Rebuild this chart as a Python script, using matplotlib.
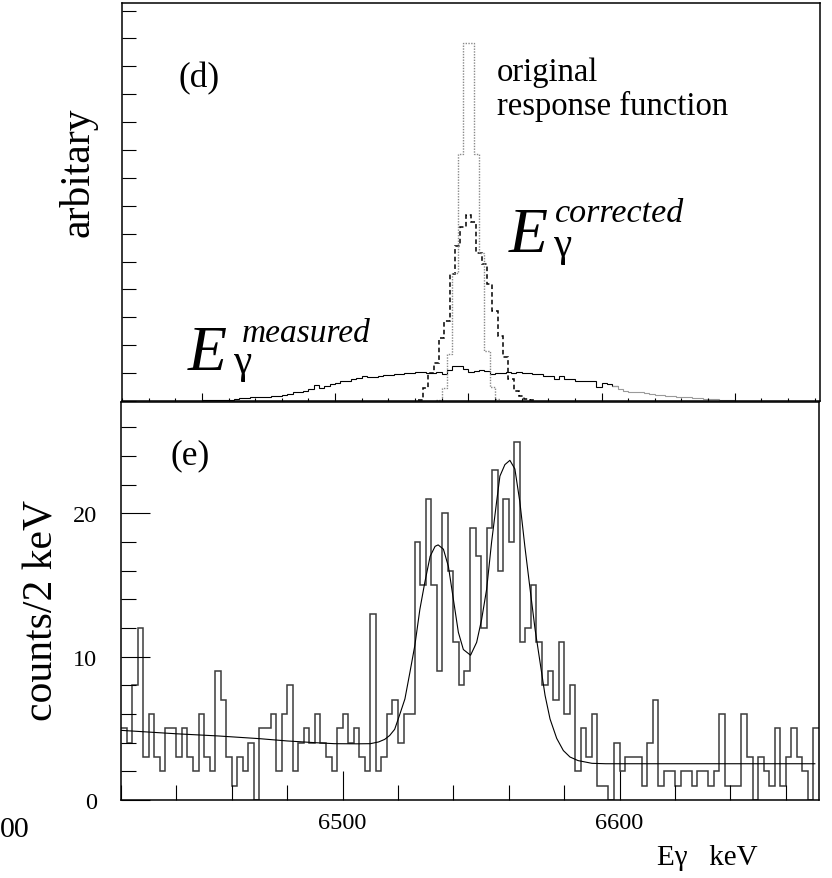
import numpy as np
import matplotlib
matplotlib.use("Agg")
import matplotlib.pyplot as plt
from matplotlib.ticker import MultipleLocator

plt.rcParams['font.family'] = ['Liberation Serif', 'DejaVu Serif']

# ---- panel (d): response functions, arbitrary units ----
meas_edges = np.arange(0, 202, 2)
measured = [0.02, 0.03, 0.03, 0.04, 0.05, 0.05, 0.08, 0.09, 0.12, 0.13,
            0.15, 0.15, 0.16, 0.19, 0.19, 0.23, 0.25, 0.31, 0.31, 0.37,
            0.43, 0.58, 0.45, 0.52, 0.61, 0.63, 0.70, 0.72, 0.79, 0.81,
            0.91, 0.87, 0.85, 0.90, 0.93, 0.94, 0.98, 0.97, 0.99, 1.00,
            1.03, 1.03, 1.02, 1.00, 1.05, 0.97, 1.12, 1.24, 1.24, 1.14,
            1.05, 1.09, 1.12, 1.07, 0.98, 1.01, 1.01, 1.03, 1.02, 1.05,
            1.00, 1.02, 0.97, 0.97, 0.91, 0.91, 0.79, 0.91, 0.79, 0.80,
            0.73, 0.73, 0.73, 0.70, 0.49, 0.63, 0.61, 0.53, 0.43, 0.36,
            0.34, 0.34, 0.31, 0.30, 0.25, 0.23, 0.22, 0.19, 0.19, 0.15,
            0.13, 0.13, 0.12, 0.12, 0.08, 0.07, 0.07, 0.04, 0.03, 0.03]
gray_from = 78  # tail of the measured spectrum is drawn in grey

corr_edges = np.arange(81, 127, 2)
corrected = [0.05, 0.45, 1.0, 1.36, 2.25, 2.88, 4.55, 5.55, 6.23, 6.67, 6.4,
             5.3, 4.9, 4.2, 3.24, 2.34, 1.57, 0.79, 0.37, 0.19, 0.07, 0.03]

orig_edges = np.arange(88, 114, 2)
original = [0.05, 0.45, 1.7, 4.6, 8.85, 12.83, 12.83, 8.85, 5.3, 1.8, 0.5, 0.07]

# ---- panel (e): counts per 2 keV ----
e_edges = np.arange(6420, 6674, 2)
counts = [5, 4, 8, 12, 3, 6, 3, 2, 5, 5,
          3, 5, 3, 2, 6, 3, 2, 9, 7, 3,
          1, 3, 2, 4, 0, 5, 5, 6, 2, 6,
          8, 2, 4, 5, 4, 6, 4, 3, 2, 5,
          6, 4, 5, 3, 2, 13, 2, 3, 6, 7,
          4, 6, 6, 18, 15, 21, 15, 9, 20, 16,
          11, 8, 9, 19, 17, 12, 19, 23, 16, 21,
          18, 25, 11, 12, 15, 11, 8, 9, 7, 11,
          6, 8, 2, 5, 3, 6, 1, 1, 0, 4,
          2, 3, 3, 3, 1, 4, 7, 1, 2, 2,
          1, 2, 2, 1, 2, 2, 1, 2, 6, 1,
          1, 1, 6, 3, 0, 3, 2, 1, 5, 1,
          3, 5, 3, 2, 0, 5]

# fitted curve
fit_e = [6420, 6440, 6455, 6470, 6480, 6490, 6497, 6505, 6510, 6513, 6515.2,
         6517, 6518.8, 6520.7, 6522.5, 6524.3, 6526.1, 6527.9, 6529.7, 6531.6,
         6533.4, 6534.5, 6536.4, 6538.2, 6540, 6541.8, 6543.6, 6546.2, 6548.4,
         6550.2, 6552, 6553.8, 6555.6, 6556.8, 6558.6, 6560.4, 6562.2, 6564,
         6565.8, 6567.7, 6569.5, 6571.3, 6573.1, 6574.9, 6577.3, 6579.7, 6582.1,
         6585, 6590, 6595, 6670.5]
fit_y = [4.86, 4.62, 4.47, 4.28, 4.12, 4.0, 3.93, 3.92, 3.93, 4.05, 4.23,
         4.5, 4.93, 6.0, 7.05, 8.9, 10.8, 13.3, 15.2, 17.0,
         17.7, 17.8, 17.5, 16.3, 14.0, 11.7, 10.5, 10.1, 11.0,
         12.6, 14.7, 18.0, 20.8, 22.6, 23.4, 23.7, 23.1, 20.8,
         17.7, 14.7, 11.9, 9.6, 7.3, 5.65, 4.3, 3.45, 3.0,
         2.75, 2.56, 2.53, 2.53]

W, H = 832, 879


def fx(x):
    return x / W


def fy(y):
    return 1 - y / H


fig = plt.figure(figsize=(8.32, 8.79), dpi=100)
ax_top = fig.add_axes([fx(122), fy(402), (820 - 122) / W, (402 - 4) / H])
ax_bot = fig.add_axes([fx(121), fy(801), (819 - 121) / W, (801 - 403) / H])

# top panel
ax_top.stairs(measured[:gray_from], meas_edges[:gray_from + 1], color='black',
              lw=0.8, baseline=None)
ax_top.stairs(measured[gray_from - 1:], meas_edges[gray_from - 1:], color='#9a9a9a',
              lw=0.8, baseline=None)
ax_top.stairs(corrected, corr_edges, color='black', lw=1.1, ls=(0, (3, 2)),
              baseline=None)
ax_top.stairs(original, orig_edges, color='#8a8a8a', lw=1.0, ls=(0, (1, 1)),
              baseline=None)
ax_top.set_xlim(-30, 232)
ax_top.set_ylim(0, 14.27)
ax_top.xaxis.set_major_locator(MultipleLocator(50))
ax_top.xaxis.set_minor_locator(MultipleLocator(10))
ax_top.yaxis.set_major_locator(MultipleLocator(1))
ax_top.tick_params(which='both', direction='in', top=False, right=False,
                   labelleft=False, labelbottom=False, width=0.8)
ax_top.tick_params(axis='x', which='major', length=5.8)
ax_top.tick_params(axis='x', which='minor', length=2.5)
ax_top.tick_params(axis='y', which='major', length=10)

# bottom panel
ax_bot.stairs(counts, e_edges, color='#3c3c3c', lw=1.1, baseline=None)
ax_bot.plot(fit_e, fit_y, color='black', lw=0.8)
ax_bot.set_xlim(6420, 6672)
ax_bot.set_ylim(0, 27.77)
ax_bot.xaxis.set_major_locator(MultipleLocator(100))
ax_bot.xaxis.set_minor_locator(MultipleLocator(20))
ax_bot.yaxis.set_major_locator(MultipleLocator(10))
ax_bot.yaxis.set_minor_locator(MultipleLocator(2))
ax_bot.tick_params(which='both', direction='in', top=False, right=False,
                   width=0.8, labelsize=17.5)
ax_bot.tick_params(which='major', length=21)
ax_bot.tick_params(which='minor', length=10.5)
ax_bot.tick_params(axis='y', pad=17)
ax_bot.tick_params(axis='x', pad=9)

for ax in (ax_top, ax_bot):
    for sp in ax.spines.values():
        sp.set_linewidth(1.1)

# texts
fig.text(fx(78), fy(172), 'arbitary', rotation=90, ha='center', va='center',
         fontsize=30)
fig.text(fx(42), fy(610), 'counts/2 keV', rotation=90, ha='center', va='center',
         fontsize=30)
fig.text(fx(178), fy(87), '(d)', fontsize=25.5, va='baseline')
fig.text(fx(171), fy(464), '(e)', fontsize=25.5, va='baseline')
fig.text(fx(497), fy(81), 'original', fontsize=23.5, va='baseline')
fig.text(fx(497), fy(115), 'response function', fontsize=23.5, va='baseline')

fig.text(fx(188), fy(370), 'E', fontsize=46, style='italic', va='baseline')
fig.text(fx(233), fy(373), 'γ', fontsize=29.5, va='baseline')
fig.text(fx(242), fy(342), 'measured', fontsize=24, style='italic', va='baseline')

fig.text(fx(509), fy(252), 'E', fontsize=46, style='italic', va='baseline')
fig.text(fx(553), fy(256), 'γ', fontsize=29.5, va='baseline')
fig.text(fx(555), fy(222), 'corrected', fontsize=24.5, style='italic', va='baseline')

fig.text(fx(657), fy(865), 'Eγ   keV', fontsize=21, va='baseline')
fig.text(fx(0), fy(837), '00', fontsize=21.5, ha='left', va='baseline')

fig.savefig('out.png', dpi=100)
